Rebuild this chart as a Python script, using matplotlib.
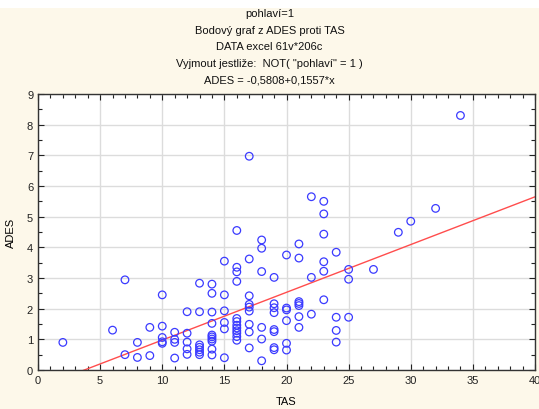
import matplotlib
matplotlib.use("Agg")
import matplotlib.pyplot as plt
from matplotlib.ticker import MultipleLocator
from matplotlib.patches import Rectangle

plt.rcParams['font.family'] = ['Liberation Sans', 'DejaVu Sans']

# TAS value for each column of points, and the ADES values read at that TAS
tas_cols = [2, 6, 7, 8, 9, 10, 11, 12, 13, 14, 15, 16, 17, 18, 19, 20, 21, 22, 23, 24, 25, 27, 29, 30, 32, 34]
ades_cols = [
    [0.90],
    [1.30],
    [2.94, 0.50],
    [0.90, 0.41],
    [1.39, 0.47],
    [2.45, 1.43, 1.06, 0.92, 0.87],
    [1.23, 1.00, 0.90, 0.39],
    [1.90, 1.20, 0.91, 0.69, 0.51],
    [2.83, 1.90, 0.82, 0.74, 0.66, 0.58, 0.50],
    [2.80, 2.50, 1.89, 1.52, 1.14, 1.08, 1.01, 0.94, 0.68, 0.49],
    [3.55, 2.45, 1.93, 1.55, 1.34, 0.40],
    [4.55, 3.35, 3.20, 2.89, 1.68, 1.58, 1.46, 1.37, 1.28, 1.20, 1.09, 0.97],
    [6.97, 3.62, 2.42, 2.14, 2.05, 1.92, 1.49, 1.24, 0.72],
    [4.24, 3.97, 3.21, 1.39, 1.01, 0.30],
    [3.02, 2.16, 2.03, 1.87, 1.32, 1.25, 0.73, 0.66],
    [3.75, 2.02, 1.96, 1.61, 0.87, 0.65],
    [4.11, 3.65, 2.23, 2.17, 2.10, 1.74, 1.39],
    [5.65, 3.02, 1.82],
    [5.50, 5.09, 4.43, 3.53, 3.22, 2.29],
    [3.84, 1.72, 1.29, 0.91],
    [3.28, 2.96, 1.72],
    [3.28],
    [4.49],
    [4.85],
    [5.27],
    [8.30],
]

# regression from the title
intercept = -0.5808
slope = 0.1557

title_lines = [
    'pohlaví=1',
    'Bodový graf z ADES proti TAS',
    'DATA excel 61v*206c',
    'Vyjmout jestliže:  NOT( "pohlaví" = 1 )',
    'ADES = -0,5808+0,1557*x',
]

tas = []
ades = []
for t, col in zip(tas_cols, ades_cols):
    for a in col:
        tas.append(t)
        ades.append(a)

fig = plt.figure(figsize=(5.39, 4.10), dpi=100)
fig.patch.set_facecolor('#fdf8ea')
fig.patches.append(Rectangle((0, 1 - 9 / 410), 1, 9 / 410, transform=fig.transFigure,
                             facecolor='white', edgecolor='none', zorder=0))

ax = fig.add_axes([38 / 539, 1 - 371 / 410, 497 / 539, 276 / 410])
ax.set_facecolor('white')

ax.scatter(tas, ades, s=30, facecolors='none', edgecolors='#3b3bff', linewidths=0.9, zorder=3)

xs = [0, 40]
ax.plot(xs, [intercept + slope * x for x in xs], color='#ff4d4d', linewidth=1.0, zorder=2)

ax.set_xlim(0, 40)
ax.set_ylim(0, 9)
ax.xaxis.set_major_locator(MultipleLocator(5))
ax.xaxis.set_minor_locator(MultipleLocator(1))
ax.yaxis.set_major_locator(MultipleLocator(1))
ax.yaxis.set_minor_locator(MultipleLocator(0.5))
ax.grid(True, which='major', color='#dcdcdc', linewidth=1.0)
ax.set_axisbelow(True)

ax.tick_params(which='both', direction='in', top=True, right=True, labelsize=8, colors='#222222')
ax.tick_params(which='major', length=4, width=0.8)
ax.tick_params(which='minor', length=3, width=0.8)
for sp in ax.spines.values():
    sp.set_color('#333333')
    sp.set_linewidth(1.0)

ax.set_xlabel('TAS', fontsize=8, labelpad=8)
ax.set_ylabel('ADES', fontsize=8, labelpad=8)

y0 = 1 - 14 / 410
for i, line in enumerate(title_lines):
    fig.text(0.5, y0 - i * 16.7 / 410, line, ha='center', va='center', fontsize=8, color='#111111')

fig.savefig('out.png', dpi=100, facecolor=fig.get_facecolor())
